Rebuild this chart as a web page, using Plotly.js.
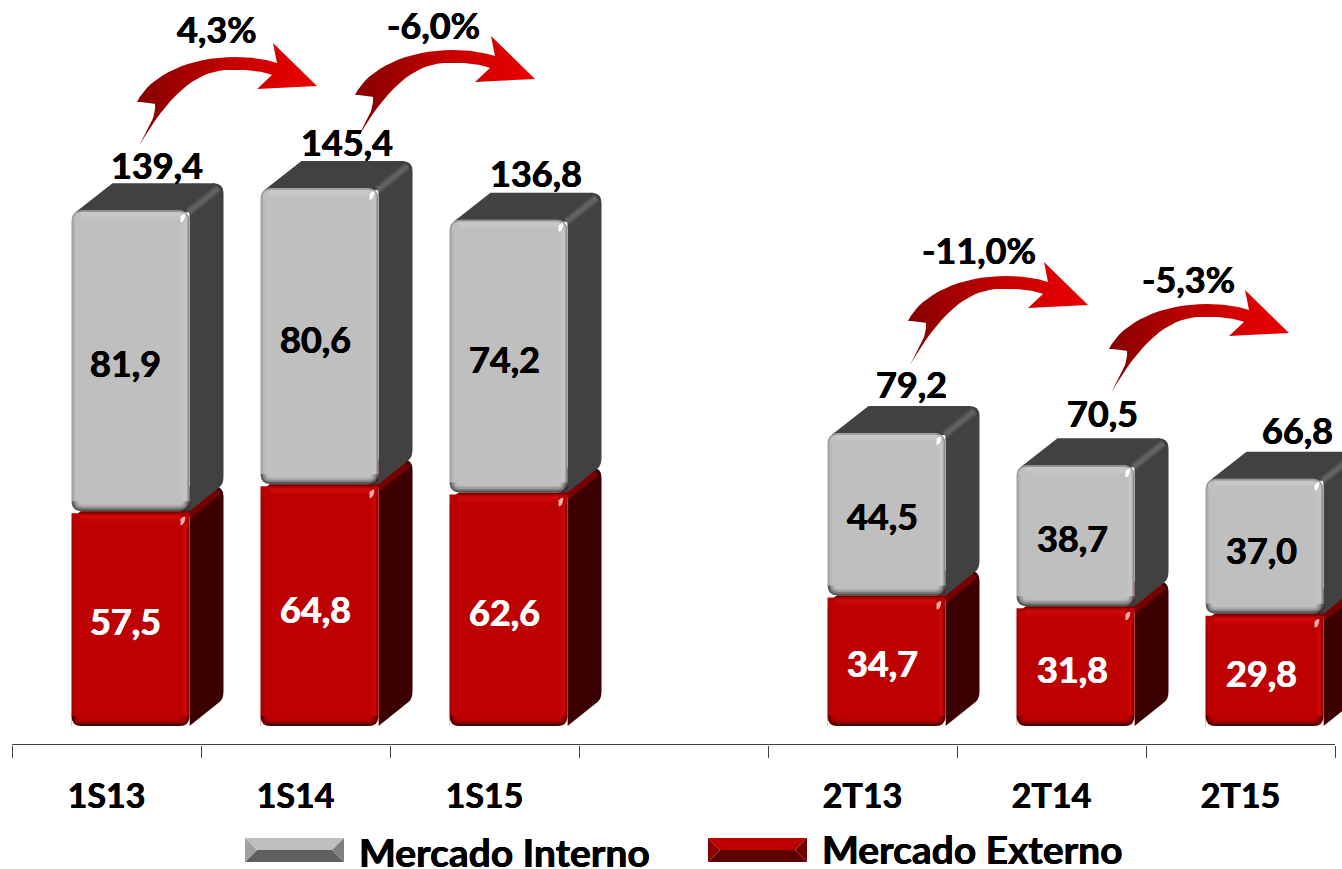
<!DOCTYPE html>
<html><head><meta charset="utf-8">
<script src="https://cdn.plot.ly/plotly-3.0.1.min.js"></script>
<style>html,body{margin:0;padding:0;background:#fff;overflow:hidden}</style>
</head><body><div id="chart"></div>
<script>
const categories = ['1S13','1S14','1S15','','2T13','2T14','2T15'];
const externo = [57.5,64.8,62.6,null,34.7,31.8,29.8];
const interno = [81.9,80.6,74.2,null,44.5,38.7,37.0];
const totals  = [139.4,145.4,136.8,null,79.2,70.5,66.8];
const growthLabels = ['4,3%','-6,0%','-11,0%','-5,3%'];
const seriesNames = ['Mercado Interno','Mercado Externo'];

const fmt = v => v.toFixed(1).replace('.',',');
const PXX = 189, PXY = 3.7, L = 12, BASE = 726, AXIS = 745, W = 1342, H = 869;
const ux = 1/PXX, uy = 1/PXY;
const X = px => (px-L)/PXX-0.5, Y = py => (BASE-py)/PXY, PY = py => (AXIS-py)/AXIS;
const FONT = 'Lato, Carlito, sans-serif';
const WEIGHT = 700;
const idx = categories.map((c,i)=>i).filter(i=>externo[i]!==null);
const barW = 118*ux, barOff = -35*ux, dx = 34*ux, dy = 27*uy, R = 10, gap = 2*uy;

const shapes = [];
const S = (path,fill,line,w,layer)=>shapes.push({type:'path',xref:'x',yref:'y',path,fillcolor:fill||'rgba(0,0,0,0)',
  line:{color:line||'rgba(0,0,0,0)',width:w||0},layer:layer||'above'});

function solid(x0,y0,x1,y1,sideColor,topColor,ridge){
  const a=ux,b=uy;
  S(`M${x1},${y0} L${x1+dx-4*a},${y0+dy-3*b} Q${x1+dx},${y0+dy} ${x1+dx},${y0+dy+8*b} L${x1+dx},${y1+dy-10*b} Q${x1+dx},${y1+dy} ${x1+dx-10*a},${y1+dy} L${x1},${y1} Z`,sideColor,null,0,'below');
  S(`M${x0+4*a},${y1-2*b} L${x0+dx+7*a},${y1+dy} L${x1+dx-8*a},${y1+dy} L${x1},${y1-2*b} Z`,topColor,null,0,'below');
  S(`M${x1-1*a},${y1-2*b} L${x1+dx-5*a},${y1+dy-5*b}`,null,ridge[0],8,'below');
  S(`M${x1-1*a},${y1-2*b} L${x1+dx-5*a},${y1+dy-5*b}`,null,ridge[1],4,'below');
}
function bevel(x0,y0,x1,y1,p){
  const a=ux,b=uy;
  const top=(i)=>`M${x0+i*a},${y1-R*b} Q${x0+i*a},${y1-i*b} ${x0+R*a},${y1-i*b} L${x1-R*a},${y1-i*b} Q${x1-i*a},${y1-i*b} ${x1-i*a},${y1-R*b}`;
  const bot=(i)=>`M${x0+i*a},${y0+R*b} Q${x0+i*a},${y0+i*b} ${x0+R*a},${y0+i*b} L${x1-R*a},${y0+i*b} Q${x1-i*a},${y0+i*b} ${x1-i*a},${y0+R*b}`;
  const side=(x)=>`M${x},${y1-R*b} L${x},${y0+R*b}`;
  p.topBand.forEach((c,k)=>S(`M${x0+9*a},${y1-(3+k*2)*b} L${x1-9*a},${y1-(3+k*2)*b}`,null,c,2));
  p.rightBand.forEach((c,k)=>S(side(x1-(4+k*2)*a),null,c,2));
  p.leftBand.forEach((c,k)=>S(side(x0+(1+k*2)*a),null,c,2));
  p.rightEdge.forEach((c,k)=>S(side(x1-(1+k)*a),null,c,1));
  p.bottom.forEach((c,k)=>S(bot(1+k*1.6),null,c,1.8));
  S(top(1),null,p.topEdge,1.5);
  S(`M${x1-9*a},${y1-6*b} Q${x1-6*a},${y1-2*b} ${x1-4*a},${y1-4*b} Q${x1-5*a},${y1-12*b} ${x1-9*a},${y1-12*b} Z`,p.glint);
}
function cornerMasks(x0,y0,x1,colR){
  const a=R*ux,b=R*uy;
  S(`M${x0},${y0} L${x0+a},${y0} Q${x0},${y0} ${x0},${y0+b} Z`,'#ffffff');
  S(`M${x1},${y0} L${x1-a},${y0} Q${x1},${y0} ${x1},${y0+b} Z`,colR);
}
const palGray = {
  topBand:['rgba(255,255,255,0.16)','rgba(255,255,255,0.14)','rgba(255,255,255,0.08)'],
  rightBand:['rgba(255,255,255,0.10)','rgba(255,255,255,0.07)'],
  leftBand:['rgba(0,0,0,0.14)','rgba(0,0,0,0.05)'],
  rightEdge:['rgba(0,0,0,0.28)','rgba(0,0,0,0.12)'],
  bottom:['rgba(0,0,0,0.55)','rgba(0,0,0,0.32)','rgba(0,0,0,0.18)','rgba(0,0,0,0.08)'],
  topEdge:'rgba(0,0,0,0.22)',glint:'rgba(255,255,255,0.95)'};
const palRed = {
  topBand:['rgba(255,30,30,0.30)','rgba(255,30,30,0.26)','rgba(255,30,30,0.12)'],
  rightBand:['rgba(255,30,30,0.22)','rgba(255,30,30,0.14)'],
  leftBand:['rgba(0,0,0,0.12)','rgba(0,0,0,0.04)'],
  rightEdge:['rgba(0,0,0,0.25)','rgba(0,0,0,0.10)'],
  bottom:['rgba(0,0,0,0.55)','rgba(0,0,0,0.32)','rgba(0,0,0,0.16)','rgba(0,0,0,0.06)'],
  topEdge:'rgba(0,0,0,0.08)',glint:'rgba(255,190,190,0.9)'};

idx.forEach(i=>{
  const x0=i+barOff,x1=x0+barW,r=externo[i];
  solid(x0,0,x1,r,'#3c0000','#7a0000',['rgba(122,0,0,0.8)','rgba(122,0,0,0.8)']);
});
idx.forEach(i=>{
  const x0=i+barOff,x1=x0+barW,r=externo[i],t=r+interno[i];
  solid(x0,r+gap,x1,t,'#414141','#414141',['rgba(90,90,90,0.7)','rgba(105,105,105,0.7)']);
  cornerMasks(x0,0,x1,'#ffffff');
  bevel(x0,0,x1,r,palRed);
  cornerMasks(x0,r+gap,x1,'#3c3c3c');
  bevel(x0,r+gap,x1,t,palGray);
});

const traces = [
 {type:'bar',name:seriesNames[1],x:idx,y:idx.map(i=>externo[i]),width:barW,offset:barOff,
  marker:{color:'#bd0000',cornerradius:R,line:{width:0}},hoverinfo:'skip',showlegend:false},
 {type:'bar',name:seriesNames[0],x:idx,y:idx.map(i=>interno[i]-gap),base:idx.map(i=>externo[i]+gap),width:barW,offset:barOff,
  marker:{color:'#bfbfbf',cornerradius:R,line:{width:0}},hoverinfo:'skip',showlegend:false}
];

const tails = [[140,145],[358,138],[911,364],[1112,392]];
const tailOrigin=[140,145];
const outline=[[[139,146]],
 ['C',[148,128],[156,118],[155,104]],['C',[150,103],[143,102],[137,102]],
 ['C',[150,75],[190,57],[235,57]],['C',[250,57],[265,59],[277,63]],
 ['L',[273,43]],['L',[317,86]],['L',[257,89]],['L',[272,75]],
 ['C',[262,71],[245,69],[225,70]],['C',[195,72],[168,96],[139,146]]];
function sample(){
  const pts=[outline[0][0]];
  outline.slice(1).forEach(s=>{
    if(s[0]==='L'){pts.push(s[1]);return;}
    const p0=pts[pts.length-1];
    for(let k=1;k<=16;k++){const t=k/16,m=1-t;
      pts.push([0,1].map(j=>m*m*m*p0[j]+3*m*m*t*s[1][j]+3*m*t*t*s[2][j]+t*t*t*s[3][j]));}
  });
  return pts;
}
const arrowPts=sample();
tails.forEach(t=>{
  const ox=t[0]-tailOrigin[0],oy=t[1]-tailOrigin[1];
  traces.push({type:'scatter',mode:'lines',x:arrowPts.map(p=>X(p[0]+ox)),y:arrowPts.map(p=>Y(p[1]+oy)),
    fill:'toself',line:{width:0,color:'rgba(0,0,0,0)'},hoverinfo:'skip',showlegend:false,
    fillgradient:{type:'horizontal',colorscale:[[0,'#860000'],[0.55,'#c80000'],[1,'#ec0000']]}});
});

const ann=[];
const fontOf=(size,color)=>({family:FONT,size,color,weight:WEIGHT,shadow:`0.4px 0 0 ${color}, -0.4px 0 0 ${color}`});
const T=(xv,yv,text,size,color)=>ann.push({xref:'x',yref:'y',x:xv,y:yv,text,showarrow:false,xanchor:'center',yanchor:'middle',font:fontOf(size,color)});
const SZ=36;
const totalPos=[[157,165],[347,142],[536,173],null,[911,384],[1102,413],[1297,430]];
const intY=[363,339,359,null,516,538,550], intX=[125,315,504,null,882,1072,1261];
const extY=[621,609,612,null,663,669,673], extX=[125,315,504,null,882,1072,1261];
idx.forEach(i=>{
  T(X(totalPos[i][0]),Y(totalPos[i][1]),fmt(totals[i]),SZ,'#000');
  T(X(intX[i]),Y(intY[i]),fmt(interno[i]),SZ,'#000');
  T(X(extX[i]),Y(extY[i]),fmt(externo[i]),SZ,'#fff');
});
const growthPos=[[217,29],[433,25],[979,250],[1188,279]];
growthLabels.forEach((g,i)=>T(X(growthPos[i][0]),Y(growthPos[i][1]),g,SZ,'#000'));

function swatch(x0,y0,w,h,b,c){
  const P=(arr)=>'M'+arr.map(p=>X(p[0])+','+PY(p[1])).join(' L')+' Z';
  const add=(pts,col)=>shapes.push({type:'path',xref:'x',yref:'paper',path:P(pts),fillcolor:col,line:{width:0},layer:'above'});
  add([[x0,y0],[x0+w,y0],[x0+w-b,y0+h/2],[x0+b,y0+h/2]],c[0]);
  add([[x0,y0+h],[x0+w,y0+h],[x0+w-b,y0+h/2],[x0+b,y0+h/2]],c[1]);
  add([[x0,y0],[x0+b,y0+h/2],[x0,y0+h]],c[2]);
  add([[x0+w,y0],[x0+w-b,y0+h/2],[x0+w,y0+h]],c[3]);
}
swatch(245,838,99,24,12,['#bfbfbf','#5f5f5f','#a0a0a0','#7f7f7f']);
swatch(708,838,99,24,12,['#bd0000','#5f0000','#8f0000','#700000']);
const LEG=(px,py,text)=>ann.push({xref:'x',yref:'paper',x:X(px),y:PY(py),text,showarrow:false,xanchor:'left',yanchor:'middle',xshift:-1,font:fontOf(39,'#000')});
LEG(358,852,seriesNames[0]);
LEG(821,849,seriesNames[1]);

shapes.push({type:'line',xref:'x',yref:'y',x0:-0.5,x1:6.5,y0:Y(AXIS),y1:Y(AXIS),line:{color:'#404040',width:2},layer:'above'});

const layout={width:W,height:H,margin:{l:L,r:0,t:0,b:H-AXIS},paper_bgcolor:'#fff',plot_bgcolor:'rgba(0,0,0,0)',
  showlegend:false,barmode:'overlay',
  xaxis:{range:[-0.5,(W-L)/PXX-0.5],tickmode:'array',tickvals:idx,ticktext:idx.map(i=>categories[i]),ticks:'',showgrid:false,zeroline:false,showline:false,
    ticklabelstandoff:28,tickfont:fontOf(34,'#000'),
    minor:{tickmode:'array',tickvals:[-0.5,0.5,1.5,2.5,3.5,4.5,5.5,6.5],ticks:'outside',ticklen:12,tickwidth:1,tickcolor:'#404040',showgrid:false}},
  yaxis:{range:[Y(AXIS),Y(0)],visible:false,fixedrange:true},
  shapes,annotations:ann};
Plotly.newPlot('chart',traces,layout,{displayModeBar:false,staticPlot:true});
</script></body></html>
